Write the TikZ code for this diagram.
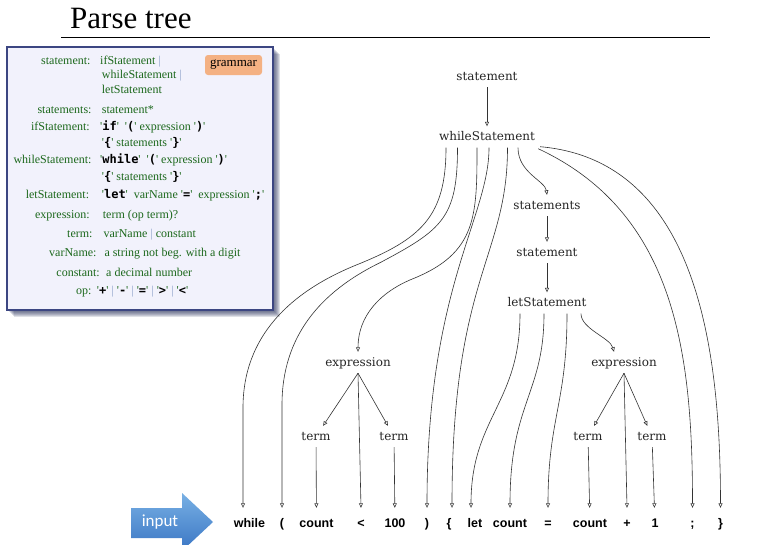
\documentclass[tikz,border=0pt]{standalone}
\usepackage{fontspec}
\setmainfont{Liberation Serif}
\setmonofont{DejaVu Sans Mono}
\newfontfamily\treefont{DejaVu Serif}
\newfontfamily\tokfont{Liberation Sans}
\newfontfamily\btnfont{Carlito}
\usetikzlibrary{arrows.meta, positioning, calc}
\definecolor{gram}{RGB}{28,104,28}
\definecolor{barc}{RGB}{140,160,200}
\definecolor{boxfill}{RGB}{242,242,252}
\definecolor{boxline}{RGB}{60,70,130}
\definecolor{shadowc}{RGB}{40,48,90}
\definecolor{badge}{RGB}{244,177,131}
\definecolor{arrowtop}{RGB}{120,176,228}
\definecolor{arrowbot}{RGB}{58,118,196}
\newcommand{\lit}[1]{\textquotesingle{\ttfamily\bfseries\color{black}#1}\textquotesingle}
\newcommand{\sepbar}{{\color{barc}|}}

\begin{document}
\begin{tikzpicture}[x=1pt,y=1pt,
  lbl/.style={font=\treefont\fontsize{12}{14}\selectfont, text=black!85, inner xsep=1pt, inner ysep=4pt, text height=10pt, text depth=3pt},
  tok/.style={font=\tokfont\bfseries\fontsize{12.5}{14}\selectfont, inner xsep=1pt, inner ysep=10pt, text height=9pt, text depth=3pt},
  link/.style={line width=0.6pt, black!80, -{Triangle[open,length=4.5pt,width=4pt]}},
  lhs/.style={font=\fontsize{12}{14}\selectfont, text=gram, anchor=base east, inner sep=0pt},
  rhs/.style={font=\fontsize{12}{14}\selectfont, text=gram, anchor=base west, inner sep=0pt}]

\fill[white] (0,0) rectangle (765,-544);
\useasboundingbox (0,0) rectangle (765,-544);

\node[anchor=base west, inner sep=0pt, font=\fontsize{31}{36}\selectfont] (title) at (70,-28) {Parse tree};
\draw[line width=1.4pt] (61,-37.5) -- (710,-37.5);

\begin{scope}
\foreach \s in {1,...,7}
  \fill[shadowc, opacity=0.15] (7+\s,-47-\s) rectangle (273+\s,-310-\s);
\draw[boxline, line width=1.5pt, fill=boxfill] (7,-47) rectangle (273,-310);
\node[fill=badge, rounded corners=3pt, minimum width=57pt, minimum height=20pt, inner sep=0pt, font=\fontsize{13}{14}\selectfont] (badge) at (233.5,-65) {grammar};

\node[lhs] (g1l) at (90.7,-64) {statement:};
\node[rhs] (g1r) at (100,-64) {ifStatement \sepbar};
\node[rhs] (g1b) at (101.7,-78.5) {whileStatement \sepbar};
\node[rhs] (g1c) at (101.7,-93) {letStatement};
\node[lhs] (g2l) at (91.7,-113) {statements:};
\node[rhs] (g2r) at (101.7,-113) {statement*};
\node[lhs] (g3l) at (90,-130.5) {ifStatement:};
\node[rhs] (g3r) at (100,-130.5) {\lit{if} \ \lit{(} expression \lit{)}};
\node[rhs] (g3b) at (101.7,-146) {\lit{\{} statements \lit{\}}};
\node[lhs] (g4l) at (91.7,-163.5) {whileStatement:};
\node[rhs] (g4r) at (100,-163.5) {\lit{while} \ \lit{(} expression \lit{)}};
\node[rhs] (g4b) at (101.7,-180) {\lit{\{} statements \lit{\}}};
\node[lhs] (g5l) at (89.3,-198.5) {letStatement:};
\node[rhs] (g5r) at (101.7,-198.5) {\lit{let} \ varName \lit{=} \ expression \lit{;}};
\node[lhs] (g6l) at (90,-218) {expression:};
\node[rhs] (g6r) at (102.7,-218) {term (op term)?};
\node[lhs] (g7l) at (92.7,-237) {term:};
\node[rhs] (g7r) at (103.3,-237) {varName \sepbar{} constant};
\node[lhs] (g8l) at (96.7,-256) {varName:};
\node[rhs] (g8r) at (104.3,-256) {a string not beg. with a digit};
\node[lhs] (g9l) at (100,-276) {constant:};
\node[rhs] (g9r) at (106,-276) {a decimal number};
\node[lhs] (g10l) at (91.7,-294.5) {op:};
\node[rhs] (g10r) at (96.7,-294.5) {\lit{+} \sepbar{} \lit{-} \sepbar{} \lit{=} \sepbar{} \lit{>} \sepbar{} \lit{<}};
\end{scope}

\node[lbl] (st0) at (487,-76.5) {statement};
\node[lbl] (ws) at (487,-137) {whileStatement};
\node[lbl] (sts) at (547,-205.5) {statements};
\node[lbl] (st1) at (547,-252.5) {statement};
\node[lbl] (ls) at (547,-303) {letStatement};
\node[lbl] (ex1) at (358,-362.5) {expression};
\node[lbl] (tm1) at (316,-436.5) {term};
\node[lbl] (tm2) at (394,-436.5) {term};
\node[lbl] (ex2) at (624,-362.5) {expression};
\node[lbl] (tm3) at (588,-436.5) {term};
\node[lbl] (tm4) at (652,-436.5) {term};

\node[tok] (kwhile) at (249.5,-524) {while};
\node[tok] (klp) at (282,-524) {(};
\node[tok] (kc1) at (316.5,-524) {count};
\node[tok] (klt) at (361,-524) {<};
\node[tok] (k100) at (395,-524) {100};
\node[tok] (krp) at (427,-524) {)};
\node[tok] (klb) at (449,-524) {\{};
\node[tok] (klet) at (475,-524) {let};
\node[tok] (kc2) at (510,-524) {count};
\node[tok] (keq) at (548,-524) {=};
\node[tok] (kc3) at (590,-524) {count};
\node[tok] (kplus) at (627,-524) {+};
\node[tok] (kone) at (655,-524) {1};
\node[tok] (ksemi) at (692.5,-524) {;};
\node[tok] (krb) at (720.5,-524) {\}};

\shade[top color=arrowtop, bottom color=arrowbot] (131,-508) -- (182,-508) -- (182,-493) -- (213,-522) -- (182,-551) -- (182,-538) -- (131,-538) -- cycle;
\node[font=\btnfont\fontsize{17}{20}\selectfont, text=white, inner sep=0pt] (inp) at (160,-522) {input};

\draw[link] (st0) -- (ws);
\draw[link] (sts) -- (st1);
\draw[link] (st1) -- (ls);

\draw[link] ([xshift=-41pt]ws.south) to[out=-90,in=22,looseness=1.2] ++(-89,-117) to[out=202,in=90] ++(-114,-143) -- ([xshift=-6.5pt]kwhile.north);
\draw[link] ([xshift=-29.5pt]ws.south) to[out=-90,in=28,looseness=1.3] ++(-77.5,-115) to[out=206,in=90] ++(-98,-142) -- (klp.north);
\draw[link] ([xshift=-10pt]ws.south) to[out=-90,in=22,looseness=1.2] ++(-64,-131) to[out=202,in=90] (ex1.north);
\draw[link] ([xshift=2pt]ws.south) .. controls +(0,-70) and +(0,222) .. (krp.north);
\draw[link] ([xshift=20.5pt]ws.south) .. controls +(0,-110) and +(0,232) .. ([xshift=3pt]klb.north);
\draw[link] ([xshift=31pt]ws.south) .. controls +(0,-25) and +(-2,14) .. (sts.north);
\draw[link] ([xshift=2pt,yshift=-1pt]ws.south east) to[out=-25,in=90] (ksemi.north);
\draw[link] ([xshift=4pt,yshift=1pt]ws.south east) to[out=-5,in=90] (krb.north);

\draw[link] ([xshift=-27pt]ls.south) .. controls +(0,-90) and +(0,90) .. ([xshift=-4pt]klet.north);
\draw[link] ([xshift=-3pt]ls.south) .. controls +(0,-80) and +(0,105) .. (kc2.north);
\draw[link] ([xshift=20pt]ls.south) .. controls +(0,-90) and +(0,90) .. (keq.north);
\draw[link] ([xshift=34pt]ls.south) .. controls +(0,-15) and +(-4,14) .. ([xshift=-10pt]ex2.north);

\draw[link] (ex1.south) -- (tm1);
\draw[link] (ex1.south) -- (tm2);
\draw[link] (ex1.south) -- (klt.north);
\draw[link] (tm1) -- (kc1);
\draw[link] (tm2) -- (k100);
\draw[link] (ex2.south) -- (tm3);
\draw[link] (ex2.south) -- (tm4);
\draw[link] (ex2.south) -- (kplus.north);
\draw[link] (tm3) -- (kc3);
\draw[link] (tm4) -- (kone);

\end{tikzpicture}
\end{document}
